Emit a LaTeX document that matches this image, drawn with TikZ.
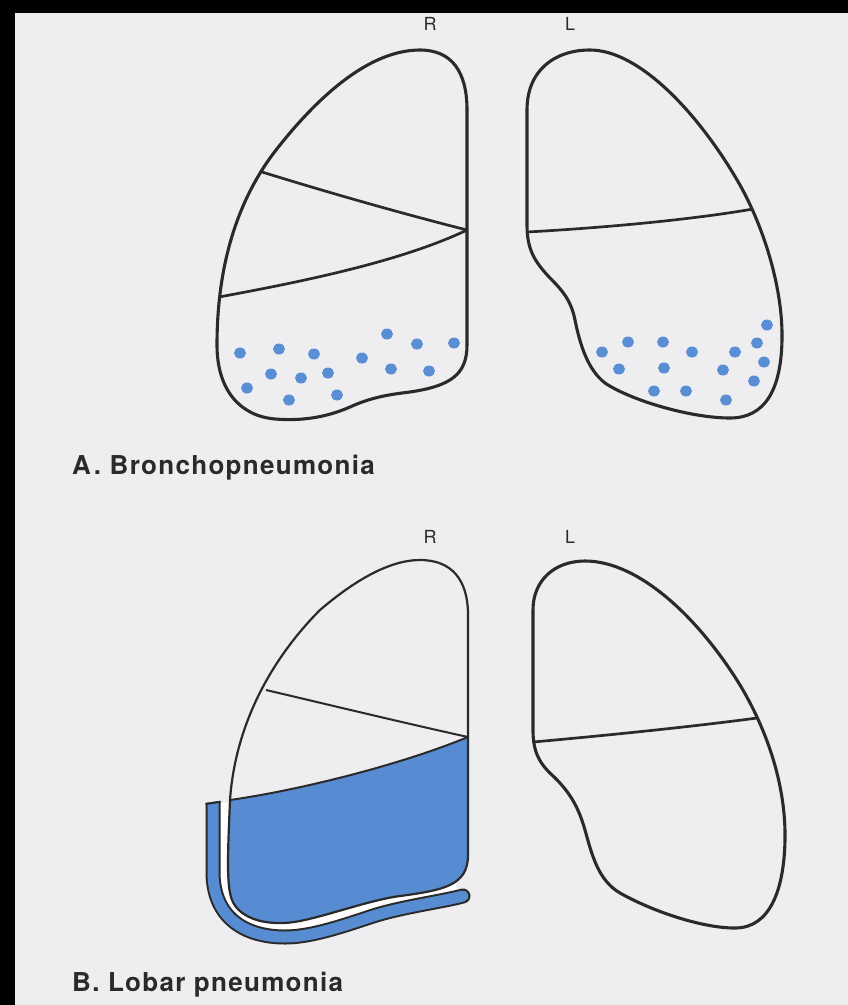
\documentclass[tikz,border=0pt]{standalone}
\usepackage{fontspec}
\setmainfont{TeX Gyre Heros}
\definecolor{paper}{HTML}{EEEEF0}
\definecolor{ink}{HTML}{2A2A2A}
\definecolor{lungblue}{HTML}{578CD2}
\definecolor{dotblue}{HTML}{5A8ED4}
\begin{document}
\begin{tikzpicture}[x=1pt,y=-1pt,
  outline/.style={draw=ink, line width=3.1pt, line join=round},
  thinline/.style={draw=ink, line width=2.2pt, line join=round},
  fissure/.style={draw=ink, line width=2.7pt},
  thinfissure/.style={draw=ink, line width=2pt},
  spot/.style={fill=dotblue},
  side/.style={font=\fontsize{18}{20}\selectfont, text=ink},
  caption/.style={font=\fontsize{26}{30}\selectfont\bfseries\addfontfeatures{LetterSpace=5}, text=ink, anchor=base west, inner sep=0pt}]
\useasboundingbox (0,0) rectangle (848,1005);
\fill[black] (0,0) rectangle (848,1005);
\fill[paper] (15,13) rectangle (848,1005);

% ---------- A: bronchopneumonia ----------
\node[side] (rA) at (430,24) {R};
\node[side] (lA) at (570,24) {L};

% right lung with three lobes
\draw[outline] (420,50) .. controls (452,50) and (467,72) .. (467,110)
  -- (467,345)
  .. controls (467,375) and (450,386) .. (410,392)
  .. controls (385,395) and (370,398) .. (350,407)
  .. controls (325,418) and (300,421) .. (275,419)
  .. controls (240,416) and (217,390) .. (217,345)
  .. controls (217,270) and (235,200) .. (280,145)
  .. controls (320,95) and (370,50) .. (420,50) -- cycle;
\draw[fissure] (262,172) .. controls (330,193) and (400,213) .. (467,230);
\draw[fissure] (219,297) .. controls (300,282) and (400,262) .. (467,230);

% left lung with two lobes
\draw[outline] (590,50) .. controls (640,50) and (700,115) .. (740,185)
  .. controls (765,230) and (783,290) .. (782,340)
  .. controls (781,390) and (765,418) .. (730,418)
  .. controls (690,418) and (630,400) .. (605,383)
  .. controls (588,370) and (580,345) .. (575,320)
  .. controls (571,300) and (562,290) .. (550,278)
  .. controls (535,262) and (527,250) .. (527,225)
  -- (527,110)
  .. controls (527,70) and (555,50) .. (590,50) -- cycle;
\draw[fissure] (527,232) .. controls (600,228) and (690,220) .. (753,209);

% scattered patches of consolidation
\foreach \px/\py in {240/353, 279/349, 314/354, 362/358, 387/334, 417/344, 454/343, 271/374, 301/378, 328/373, 391/369, 429/371, 247/388, 289/400, 337/395}
  \fill[spot] (\px,\py) ellipse [x radius=6pt, y radius=5.5pt];
\foreach \px/\py in {602/352, 628/342, 663/342, 692/352, 735/352, 757/343, 767/325, 619/369, 664/368, 723/370, 764/362, 754/381, 654/391, 686/391, 726/400}
  \fill[spot] (\px,\py) ellipse [x radius=6pt, y radius=5.5pt];

\node[caption] (capA) at (72,474) {A\kern3pt. Bronchopneumonia};

% ---------- B: lobar pneumonia ----------
\node[side] (rB) at (430,537) {R};
\node[side] (lB) at (570,537) {L};

% white gap between lung and effusion
\begin{scope}
  \clip (150,803) rectangle (456,960);
  \draw[white, line width=20pt] (420,560) .. controls (452,560) and (468,580) .. (468,615)
    -- (468,855)
    .. controls (468,885) and (445,890) .. (400,896)
    .. controls (370,900) and (330,915) .. (300,921)
    .. controls (270,927) and (240,920) .. (232,900)
    .. controls (226,885) and (228,850) .. (230,800)
    .. controls (236,715) and (280,650) .. (320,610)
    .. controls (355,580) and (390,560) .. (420,560) -- cycle;
\end{scope}

% pleural effusion band, cut off square at its upper end
\begin{scope}
  \clip (150,811) -- (240,798) -- (500,798) -- (500,980) -- (150,980) -- cycle;
  \draw[ink, line width=15pt, line cap=round] (213,790) -- (213,872) .. controls (213,917) and (244,937) .. (285,937) .. controls (310,937) and (340,927) .. (370,917) .. controls (400,907) and (440,902) .. (463,896);
  \draw[lungblue, line width=11pt, line cap=round] (213,790) -- (213,872) .. controls (213,917) and (244,937) .. (285,937) .. controls (310,937) and (340,927) .. (370,917) .. controls (400,907) and (440,902) .. (463,896);
\end{scope}
\draw[ink, line width=2pt] (205.5,804) -- (220.5,801.8);

% consolidated lower lobe
\begin{scope}
  \clip (420,560) .. controls (452,560) and (468,580) .. (468,615)
    -- (468,855)
    .. controls (468,885) and (445,890) .. (400,896)
    .. controls (370,900) and (330,915) .. (300,921)
    .. controls (270,927) and (240,920) .. (232,900)
    .. controls (226,885) and (228,850) .. (230,800)
    .. controls (236,715) and (280,650) .. (320,610)
    .. controls (355,580) and (390,560) .. (420,560) -- cycle;
  \fill[lungblue] (230,800) .. controls (300,790) and (400,765) .. (468,737) -- (490,737) -- (490,960) -- (200,960) -- (200,800) -- cycle;
\end{scope}
\draw[thinline] (420,560) .. controls (452,560) and (468,580) .. (468,615)
  -- (468,855)
  .. controls (468,885) and (445,890) .. (400,896)
  .. controls (370,900) and (330,915) .. (300,921)
  .. controls (270,927) and (240,920) .. (232,900)
  .. controls (226,885) and (228,850) .. (230,800)
  .. controls (236,715) and (280,650) .. (320,610)
  .. controls (355,580) and (390,560) .. (420,560) -- cycle;
\draw[thinfissure] (266,690) .. controls (330,705) and (400,722) .. (468,737);
\draw[thinfissure] (230,800) .. controls (300,790) and (400,765) .. (468,737);

% left lung
\draw[outline] (585,561) .. controls (640,561) and (700,620) .. (740,685)
  .. controls (770,735) and (786,790) .. (785,840)
  .. controls (784,890) and (770,928) .. (735,928)
  .. controls (700,928) and (650,910) .. (620,893)
  .. controls (598,880) and (592,855) .. (585,830)
  .. controls (578,805) and (568,790) .. (552,775)
  .. controls (538,762) and (533,750) .. (533,730)
  -- (533,610)
  .. controls (533,580) and (555,561) .. (585,561) -- cycle;
\draw[fissure] (533,742) .. controls (600,736) and (690,727) .. (757,718);

\node[caption] (capB) at (72,991) {B. Lobar pneumonia};
\end{tikzpicture}
\end{document}
